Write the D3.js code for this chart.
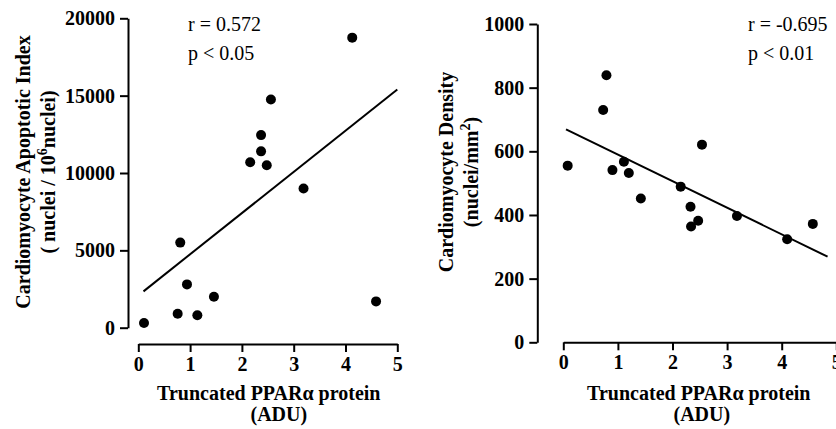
<!DOCTYPE html>
<html>
<head>
<meta charset="utf-8">
<script src="https://cdn.jsdelivr.net/npm/d3@7"></script>
<style>
  html, body { margin: 0; padding: 0; background: #fff; }
  svg { display: block; }
</style>
</head>
<body>
<svg id="chart" width="836" height="429"></svg>
<script>
// ---- Data ----
// Left panel: Truncated PPARα protein (ADU) vs Cardiomyocyte Apoptotic Index
const apoX = [0.11, 0.76, 0.81, 0.94, 1.14, 1.46, 2.16, 2.37, 2.37, 2.48, 2.56, 3.19, 4.13, 4.59];
const apoY = [300, 900, 5500, 2800, 800, 2000, 10700, 12450, 11400, 10500, 14750, 9000, 18750, 1700];
const apoFitX = [0.1, 5.0];
const apoFitY = [2350, 15400];
const apoYTicks = [0, 5000, 10000, 15000, 20000];
const apoStats = ["r = 0.572", "p < 0.05"];

// Right panel: Truncated PPARα protein (ADU) vs Cardiomyocyte Density
const denX = [0.08, 0.79, 0.73, 0.90, 1.11, 1.20, 1.42, 2.15, 2.54, 2.33, 2.47, 2.34, 3.18, 4.10, 4.57];
const denY = [555, 839, 730, 541, 567, 532, 452, 489, 621, 426, 382, 364, 397, 324, 372];
const denFitX = [0.05, 4.84];
const denFitY = [669, 269];
const denYTicks = [0, 200, 400, 600, 800, 1000];
const denStats = ["r = -0.695", "p < 0.01"];

const xTicks = [0, 1, 2, 3, 4, 5];
const xTitle = "Truncated PPARα protein";
const xUnit = "(ADU)";

const FONT = "'Liberation Serif', 'Times New Roman', serif";
const svg = d3.select("#chart");

function panel(cfg) {
  const x = d3.scaleLinear().domain([0, 5]).range(cfg.xRange);
  const y = d3.scaleLinear().domain(cfg.yDomain).range(cfg.yRange);
  const g = svg.append("g");

  // Y axis
  const ya = g.append("g")
    .attr("transform", `translate(${cfg.yAxisX},0)`)
    .call(d3.axisLeft(y).tickValues(cfg.yTicks).tickFormat(d3.format("d"))
      .tickSize(8).tickSizeOuter(0).tickPadding(5));
  // X axis
  const xa = g.append("g")
    .attr("transform", `translate(0,${cfg.xAxisY})`)
    .call(d3.axisBottom(x).tickValues(xTicks).tickFormat(d3.format("d"))
      .tickSize(8).tickSizeOuter(0).tickPadding(5));

  [ya, xa].forEach(a => {
    a.attr("font-family", FONT).attr("font-size", 20).attr("font-weight", "bold");
    a.selectAll("path.domain").attr("stroke", "#000").attr("stroke-width", 2);
    a.selectAll(".tick line").attr("stroke", "#000").attr("stroke-width", 2);
    a.selectAll(".tick text").attr("fill", "#000");
  });

  // Fit line
  const pts = cfg.fitX.map((v, i) => [x(v), y(cfg.fitY[i])]);
  g.append("path")
    .attr("d", d3.line()(pts))
    .attr("stroke", "#000").attr("stroke-width", 2).attr("fill", "none");

  // Dots
  g.selectAll("circle.dot").data(cfg.xs.map((v, i) => [v, cfg.ys[i]]))
    .join("circle").attr("class", "dot")
    .attr("cx", d => x(d[0])).attr("cy", d => y(d[1]))
    .attr("r", 5).attr("fill", "#000");

  // Stats text
  g.selectAll("text.stat").data(cfg.stats).join("text").attr("class", "stat")
    .attr("x", cfg.statX).attr("y", (d, i) => cfg.statY + i * 29)
    .attr("font-family", FONT).attr("font-size", 20).attr("fill", "#000")
    .text(d => d);

  // X title
  const xc = (cfg.xRange[0] + cfg.xRange[1]) / 2 + cfg.xTitleShift;
  g.append("text").attr("x", xc).attr("y", 400).attr("text-anchor", "middle")
    .attr("font-family", FONT).attr("font-size", 20).attr("font-weight", "bold")
    .text(xTitle);
  g.append("text").attr("x", xc + cfg.unitShift).attr("y", 421).attr("text-anchor", "middle")
    .attr("font-family", FONT).attr("font-size", 20).attr("font-weight", "bold")
    .text(xUnit);

  // Y title
  const yt = g.append("text")
    .attr("transform", `translate(${cfg.yTitleX},${cfg.yTitleY}) rotate(-90)`)
    .attr("text-anchor", "middle")
    .attr("font-family", FONT).attr("font-size", 20).attr("font-weight", "bold");
  yt.append("tspan").attr("x", 0).attr("y", 0).text(cfg.yTitle1);
  const l2 = yt.append("tspan").attr("x", 0).attr("y", 25);
  cfg.yTitle2(l2, yt);
}

panel({
  xRange: [138.3, 397.3], yDomain: [0, 20000], yRange: [327.7, 18.3],
  yAxisX: 128, xAxisY: 344, yTicks: apoYTicks,
  xs: apoX, ys: apoY, fitX: apoFitX, fitY: apoFitY,
  stats: apoStats, statX: 188, statY: 31,
  xTitleShift: 1, unitShift: 10,
  yTitleX: 30, yTitleY: 172,
  yTitle1: "Cardiomyocyte Apoptotic Index",
  yTitle2: (t) => {
    t.append("tspan").text("( nuclei / 10");
    t.append("tspan").attr("dy", -8).attr("font-size", 14).text("6");
    t.append("tspan").attr("dy", 8).text("nuclei)");
  }
});

panel({
  xRange: [563.3, 836.3], yDomain: [0, 1000], yRange: [342.3, 24],
  yAxisX: 537.3, xAxisY: 342.3, yTicks: denYTicks,
  xs: denX, ys: denY, fitX: denFitX, fitY: denFitY,
  stats: denStats, statX: 748, statY: 31,
  xTitleShift: -1, unitShift: 3,
  yTitleX: 453, yTitleY: 172,
  yTitle1: "Cardiomyocyte Density",
  yTitle2: (t) => {
    t.append("tspan").text("(nuclei/mm");
    t.append("tspan").attr("dy", -8).attr("font-size", 14).text("2");
    t.append("tspan").attr("dy", 8).text(")");
  }
});
</script>
</body>
</html>
